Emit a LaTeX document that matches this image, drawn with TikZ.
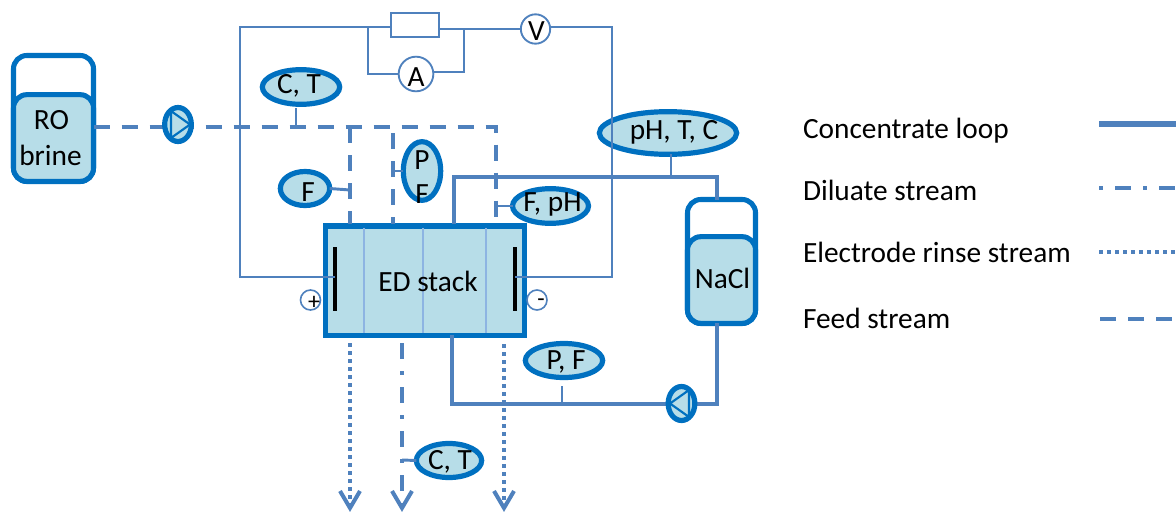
\documentclass[tikz,border=0pt]{standalone}
\usepackage{fontspec}
\setmainfont{Carlito}
\usetikzlibrary{shapes.geometric,arrows.meta}
\definecolor{edge}{HTML}{0070C0}
\definecolor{pipe}{HTML}{4F81BD}
\definecolor{fillb}{HTML}{B7DDE8}
\definecolor{sep}{HTML}{8DB4E2}
% text placed at an offset (in reference pixels) from a node's centre, without affecting the node's size
\newcommand\offtext[3]{\raisebox{\dimexpr-0.75pt*\numexpr#2\relax-0.31em\relax}[0pt][0pt]{\rlap{\hspace*{\dimexpr0.75pt*\numexpr#1\relax\relax}\makebox[0pt]{#3}}}}
\tikzset{
  x=0.75pt,y=-0.75pt,
  every node/.style={font=\fontsize{22pt}{26pt}\selectfont,text=black,inner sep=0pt,outer sep=0pt},
  sensor/.style={ellipse,draw=edge,line width=3.9pt,fill=fillb},
  meter/.style={circle,draw=pipe,line width=1.4pt,fill=white},
  terminal/.style={circle,draw=pipe,line width=1.2pt,fill=white,minimum size=15pt},
  pumpbody/.style={ellipse,draw=edge,line width=3.9pt,fill=fillb,minimum width=20pt,minimum height=25.5pt},
  tankshell/.style={draw=edge,line width=3.8pt,rounded corners=10pt,fill=white},
  tankbody/.style={draw=edge,line width=3.8pt,rounded corners=10pt,fill=fillb},
  wire/.style={draw=pipe,line width=1.5pt},
  loop/.style={draw=pipe,line width=3.4pt},
  stub/.style={draw=pipe,line width=2.2pt},
  feed/.style={draw=pipe,line width=3pt,dash pattern=on 12pt off 9pt},
  diluate/.style={draw=pipe,line width=3pt,dash pattern=on 12pt off 9pt on 3pt off 9pt},
  rinse/.style={draw=pipe,line width=3pt,dash pattern=on 3pt off 3pt},
  opentip/.style={draw=pipe,line width=3pt,line cap=butt},
  legendtext/.style={anchor=west},
}
\begin{document}
\begin{tikzpicture}
\useasboundingbox (0,0) rectangle (1176,517);
% junctions and free ends
\coordinate (w1) at (240,27);
\coordinate (w2) at (240,277);
\coordinate (w3) at (612,27);
\coordinate (w4) at (612,277);
\coordinate (a1) at (368,28);
\coordinate (a2) at (368,74);
\coordinate (a3) at (464,72);
\coordinate (a4) at (464,29);
\coordinate (fa) at (350,127);
\coordinate (fb) at (393,127);
\coordinate (fc) at (496,127);
\coordinate (fct) at (296,127);
\coordinate (ff) at (350,190);
\coordinate (fp) at (393,171);
\coordinate (ffp) at (497,206);
\coordinate (lpt) at (671,177);
\coordinate (l1) at (454,177);
\coordinate (l2) at (717,177);
\coordinate (b1) at (452,404);
\coordinate (b2) at (717,404);
\coordinate (bpf) at (562,404);
\coordinate (out1) at (350,508);
\coordinate (out2) at (402,508);
\coordinate (out3) at (504,508);
\coordinate (dct) at (402,460);
\coordinate (top1) at (350,224);
\coordinate (top2) at (393,224);
\coordinate (top3) at (496,224);
\coordinate (top4) at (454,224);
\coordinate (bot1) at (350,343);
\coordinate (bot2) at (402,343);
\coordinate (bot3) at (504,344);
\coordinate (stubct) at (296,108);
\coordinate (stubpf) at (562,386);

% tanks
\node[tankshell,minimum width=60pt,minimum height=94.5pt] (roshell) at (53.5,118.5) {};
\node[tankbody,minimum width=60pt,minimum height=65pt] (ro) at (53.5,138) {\offtext{-2}{-18}{RO}\offtext{-3}{18}{brine}};
\node[tankshell,minimum width=51pt,minimum height=93pt] (naclshell) at (721.5,261.5) {};
\node[tankbody,minimum width=51pt,minimum height=65pt] (nacl) at (721.5,280) {\offtext{1}{-1}{NaCl}};

% stack
\node[draw=edge,line width=4pt,fill=fillb,minimum width=149pt,minimum height=82pt] (stack) at (425,280.5) {};
\draw[sep,line width=1.3pt] (364,228) coordinate (s1) -- (364,333) coordinate (s1b);
\draw[sep,line width=1.3pt] (423,228) coordinate (s2) -- (423,333) coordinate (s2b);
\draw[sep,line width=1.3pt] (486,228) coordinate (s3) -- (486,333) coordinate (s3b);
\node (edlabel) at (428,282) {\offtext{0}{0}{ED stack}};
\draw[black,line width=2.3pt] (335,247) coordinate (e1) -- (335,311) coordinate (e1b);
\draw[black,line width=2.3pt] (515,247) coordinate (e2) -- (515,311) coordinate (e2b);

% concentrate loop
\draw[loop] (top4) -- (l1) -- (l2) -- (naclshell.north -| l2);
\draw[loop] (stack.south -| b1) -- (b1) -- (b2) -- (nacl.south -| b2);

% feed
\draw[feed] (ro.east |- fc) -- (fc) -- (top3);
\draw[feed] (fa) -- (top1);
\draw[feed] (393,133) coordinate (fbs) -- (top2);

% pumps
\node[pumpbody] (pump1) at (178,124.5) {};
\draw[draw=edge,line width=1.6pt,fill=fillb] (171,111) coordinate (t1a) -- (190,124.5) coordinate (t1b) -- (171,138) coordinate (t1c) -- cycle;
\node[pumpbody] (pump2) at (681.5,403.5) {};
\draw[draw=edge,line width=1.6pt,fill=fillb] (689,390) coordinate (t2a) -- (670,403.5) coordinate (t2b) -- (689,417) coordinate (t2c) -- cycle;

% sensors
\node[sensor,minimum width=58pt,minimum height=26pt] (ct1) at (301,87) {\offtext{-2}{-3}{C, T}};
\node[sensor,minimum width=37pt,minimum height=25.5pt] (fs) at (305,188.5) {\offtext{3}{4}{F}};
\node[sensor,minimum width=28pt,minimum height=44pt] (pf) at (422,171) {\offtext{0}{-11}{P}\offtext{0}{23}{F}};
\node[sensor,minimum width=57pt,minimum height=26pt] (fph) at (550.5,206) {\offtext{2}{-4}{F, pH}};
\node[sensor,minimum width=103pt,minimum height=32pt] (phtc) at (668,133) {\offtext{6}{-3}{pH, T, C}};
\node[sensor,minimum width=58pt,minimum height=25.5pt] (pfb) at (564,360.5) {\offtext{2}{0}{P, F}};
\node[sensor,minimum width=49pt,minimum height=25.5pt] (ct2) at (449,460.5) {\offtext{1}{0}{C, T}};

% sensor stubs
\draw[stub] (stubct) -- (fct);
\draw[stub] (fs.east) -- (ff);
\draw[stub] (pf.west) -- (fp);
\draw[stub] (fph.west) -- (ffp);
\draw[stub] (phtc.south -| lpt) -- (lpt);
\draw[stub] (stubpf) -- (bpf);
\draw[stub] (ct2.west) -- (dct);

% electrical
\node[draw=pipe,line width=1.5pt,fill=white,minimum width=36pt,minimum height=18pt] (res) at (414.5,25) {};
\node[meter,minimum size=22pt] (volt) at (535.5,29) {\offtext{1}{2}{V}};
\node[meter,minimum size=26pt] (amp) at (416,74) {\offtext{0}{3}{A}};
\draw[wire] (e1 |- w2) -- (w2) -- (w1) -- (res.west |- w1);
\draw[wire] (res.east |- a4) -- (volt.west |- a4);
\draw[wire] (volt.east |- w3) -- (w3) -- (w4) -- (e2 |- w4);
\draw[wire,line width=1.9pt] (a1) -- (a2) -- (amp.west |- a2);
\draw[wire,line width=1.9pt] (amp.east |- a3) -- (a3) -- (a4);

\node[terminal] (plus) at (310.5,300) {};
\node[terminal] (minus) at (537,300) {};
\node (pluslabel) at (314,303) {\fontsize{18pt}{18pt}\selectfont +};
\node (minuslabel) at (541,303) {\fontsize{18pt}{18pt}\selectfont -};

% outlets
\draw[rinse] (bot1) -- (out1);
\draw[diluate] (bot2) -- (out2);
\draw[rinse] (bot3) -- (out3);
\foreach \n/\x in {out1/350,out2/402,out3/504}{
  \draw[opentip] (\x-10,491) -- (\n) -- (\x+10,491);
}

% legend
\node[legendtext] (lg1) at (803,131) {Concentrate loop};
\node[legendtext] (lg2) at (803,190) {Diluate stream};
\node[legendtext] (lg3) at (803,252) {Electrode rinse stream};
\node[legendtext] (lg4) at (803,318) {Feed stream};
\coordinate (k1a) at (1099,124); \coordinate (k1b) at (1176,124);
\coordinate (k2a) at (1099,188); \coordinate (k2b) at (1176,188);
\coordinate (k3a) at (1099,252); \coordinate (k3b) at (1176,252);
\coordinate (k4a) at (1100,319); \coordinate (k4b) at (1176,319);
\draw[loop,line width=3.8pt] (k1a) -- (k1b);
\draw[diluate,dash pattern=on 3pt off 9pt on 12pt off 9pt] (k2a) -- (k2b);
\draw[rinse] (k3a) -- (k3b);
\draw[feed] (k4a) -- (k4b);
\end{tikzpicture}
\end{document}
